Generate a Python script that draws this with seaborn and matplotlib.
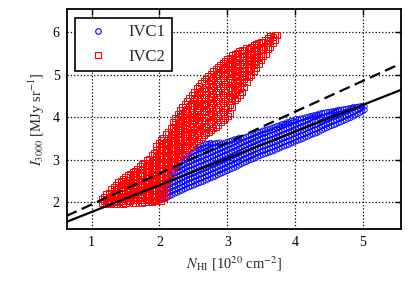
import matplotlib
matplotlib.use("Agg")
import matplotlib.pyplot as plt
from matplotlib.lines import Line2D
import seaborn as sns
import numpy as np
import pandas as pd

# ---------------- data ----------------
# IVC1 (blue circles): column x positions and the y values in each column
ivc1_x_a = [2.02, 2.09, 2.16, 2.23, 2.30, 2.37, 2.44, 2.51, 2.58, 2.65, 2.72,
            2.79, 2.86, 2.93, 3.00, 3.07, 3.14, 3.21, 3.28, 3.35, 3.42, 3.49,
            3.56, 3.63, 3.70, 3.77, 3.84, 3.91, 3.98, 4.05, 4.12, 4.19, 4.26,
            4.33, 4.40, 4.47, 4.54, 4.61, 4.68, 4.75, 4.82, 4.89, 4.96, 5.03]
ivc1_y_a = [
    [2.04, 2.13, 2.22, 2.31],
    [2.09, 2.18, 2.27, 2.36, 2.46],
    [2.14, 2.23, 2.33, 2.42, 2.52, 2.62],
    [2.20, 2.29, 2.38, 2.48, 2.58, 2.68, 2.77],
    [2.25, 2.34, 2.44, 2.53, 2.63, 2.73, 2.83, 2.92],
    [2.30, 2.39, 2.49, 2.59, 2.69, 2.79, 2.89, 2.98, 3.03],
    [2.35, 2.45, 2.55, 2.65, 2.75, 2.85, 2.95, 3.04, 3.12],
    [2.39, 2.49, 2.59, 2.69, 2.79, 2.89, 2.99, 3.09, 3.20],
    [2.44, 2.54, 2.64, 2.74, 2.84, 2.94, 3.04, 3.14, 3.24, 3.30],
    [2.48, 2.58, 2.68, 2.78, 2.88, 2.98, 3.08, 3.18, 3.28, 3.35],
    [2.53, 2.63, 2.73, 2.83, 2.93, 3.03, 3.13, 3.23, 3.32, 3.38],
    [2.58, 2.68, 2.78, 2.88, 2.98, 3.08, 3.18, 3.28, 3.38],
    [2.63, 2.73, 2.83, 2.93, 3.03, 3.13, 3.23, 3.33, 3.40],
    [2.68, 2.78, 2.88, 2.98, 3.08, 3.18, 3.28, 3.38],
    [2.73, 2.83, 2.93, 3.03, 3.13, 3.23, 3.33, 3.42],
    [2.78, 2.88, 2.98, 3.08, 3.18, 3.28, 3.38, 3.46],
    [2.83, 2.93, 3.03, 3.13, 3.23, 3.33, 3.43, 3.49],
    [2.89, 2.99, 3.09, 3.19, 3.29, 3.39, 3.50],
    [2.94, 3.04, 3.14, 3.24, 3.34, 3.44, 3.54],
    [2.99, 3.09, 3.19, 3.29, 3.39, 3.49, 3.58],
    [3.04, 3.14, 3.24, 3.34, 3.44, 3.54, 3.62],
    [3.09, 3.19, 3.29, 3.39, 3.49, 3.59, 3.66],
    [3.13, 3.23, 3.33, 3.43, 3.53, 3.63, 3.70],
    [3.17, 3.27, 3.37, 3.47, 3.57, 3.67, 3.73],
    [3.21, 3.31, 3.41, 3.51, 3.61, 3.71, 3.77],
    [3.26, 3.36, 3.46, 3.56, 3.66, 3.76, 3.81],
    [3.31, 3.41, 3.51, 3.61, 3.71, 3.81, 3.85],
    [3.35, 3.45, 3.55, 3.65, 3.75, 3.85, 3.89],
    [3.40, 3.50, 3.60, 3.70, 3.80, 3.92],
    [3.45, 3.55, 3.65, 3.75, 3.85, 3.95],
    [3.49, 3.59, 3.69, 3.79, 3.89, 3.98],
    [3.54, 3.64, 3.74, 3.84, 3.94, 4.01],
    [3.59, 3.69, 3.79, 3.89, 3.99, 4.04],
    [3.63, 3.73, 3.83, 3.93, 4.03, 4.07],
    [3.69, 3.79, 3.89, 3.99, 4.10],
    [3.74, 3.84, 3.94, 4.04, 4.12],
    [3.79, 3.89, 3.99, 4.09, 4.14],
    [3.83, 3.93, 4.03, 4.13, 4.16],
    [3.88, 3.98, 4.08, 4.18],
    [3.93, 4.03, 4.13, 4.20],
    [3.98, 4.08, 4.18, 4.22],
    [4.04, 4.14, 4.24],
    [4.10, 4.19, 4.26],
    [4.17, 4.25],
]
ivc1_x_b = [2.055, 2.125, 2.195, 2.265, 2.335, 2.405, 2.475, 2.545, 2.615,
            2.685, 2.755, 2.825, 2.895, 2.965, 3.035, 3.105, 3.175, 3.245,
            3.315, 3.385, 3.455, 3.525, 3.595, 3.665, 3.735, 3.805, 3.875,
            3.945, 4.015, 4.085, 4.155, 4.225, 4.295, 4.365, 4.435, 4.505,
            4.575, 4.645, 4.715, 4.785, 4.855, 4.925, 4.995]
ivc1_y_b = [
    [2.08, 2.19, 2.28, 2.40],
    [2.11, 2.21, 2.31, 2.40, 2.50, 2.58],
    [2.17, 2.27, 2.36, 2.47, 2.56, 2.66, 2.72],
    [2.22, 2.31, 2.42, 2.51, 2.61, 2.72, 2.80, 2.88],
    [2.27, 2.37, 2.47, 2.56, 2.66, 2.77, 2.86, 2.96],
    [2.33, 2.42, 2.53, 2.62, 2.73, 2.82, 2.93, 3.01, 3.08],
    [2.37, 2.46, 2.57, 2.66, 2.77, 2.86, 2.97, 3.06, 3.16],
    [2.42, 2.52, 2.61, 2.72, 2.81, 2.92, 3.01, 3.12, 3.21, 3.27],
    [2.46, 2.56, 2.66, 2.77, 2.86, 2.96, 3.07, 3.16, 3.26, 3.33],
    [2.51, 2.61, 2.71, 2.80, 2.91, 3.01, 3.11, 3.20, 3.30, 3.38],
    [2.56, 2.65, 2.76, 2.86, 2.95, 3.06, 3.15, 3.26, 3.35, 3.40],
    [2.60, 2.71, 2.80, 2.91, 3.00, 3.11, 3.21, 3.30, 3.39],
    [2.66, 2.75, 2.86, 2.96, 3.05, 3.16, 3.25, 3.35, 3.41],
    [2.71, 2.80, 2.91, 3.00, 3.11, 3.20, 3.31, 3.40],
    [2.76, 2.86, 2.95, 3.06, 3.15, 3.26, 3.35, 3.44],
    [2.80, 2.91, 3.00, 3.11, 3.21, 3.30, 3.41, 3.48],
    [2.86, 2.96, 3.06, 3.16, 3.26, 3.36, 3.46, 3.52],
    [2.92, 3.01, 3.12, 3.21, 3.32, 3.41, 3.52],
    [2.97, 3.06, 3.17, 3.26, 3.37, 3.46, 3.56],
    [3.01, 3.12, 3.21, 3.32, 3.41, 3.52, 3.60],
    [3.07, 3.16, 3.27, 3.36, 3.47, 3.56, 3.65],
    [3.11, 3.21, 3.31, 3.41, 3.51, 3.61, 3.69],
    [3.15, 3.25, 3.35, 3.45, 3.55, 3.65, 3.72],
    [3.19, 3.29, 3.39, 3.49, 3.59, 3.69, 3.76],
    [3.24, 3.33, 3.44, 3.53, 3.64, 3.73, 3.80],
    [3.29, 3.38, 3.49, 3.58, 3.69, 3.78, 3.84],
    [3.33, 3.43, 3.53, 3.63, 3.73, 3.83, 3.88],
    [3.38, 3.47, 3.58, 3.67, 3.78, 3.87, 3.92],
    [3.43, 3.52, 3.63, 3.72, 3.83, 3.90, 3.96],
    [3.47, 3.57, 3.67, 3.77, 3.87, 3.97],
    [3.52, 3.61, 3.72, 3.81, 3.92, 4.00],
    [3.57, 3.66, 3.77, 3.86, 3.97, 4.03],
    [3.61, 3.71, 3.81, 3.91, 4.01, 4.06],
    [3.66, 3.76, 3.86, 3.96, 4.05, 4.09],
    [3.72, 3.81, 3.92, 4.01, 4.11],
    [3.77, 3.86, 3.97, 4.06, 4.13],
    [3.81, 3.91, 4.01, 4.11, 4.15],
    [3.86, 3.95, 4.06, 4.15, 4.18],
    [3.91, 4.00, 4.11, 4.19],
    [3.96, 4.06, 4.15, 4.21],
    [4.01, 4.11, 4.21, 4.24],
    [4.07, 4.17, 4.25],
    [4.13, 4.22, 4.27],
]

# IVC2 (red squares): column x positions and the y values in each column
ivc2_x_a = [1.15, 1.22, 1.29, 1.36, 1.43, 1.50, 1.57, 1.64, 1.71, 1.78, 1.85,
            1.92, 1.99, 2.06, 2.13, 2.20, 2.27, 2.34, 2.41, 2.48, 2.55, 2.62,
            2.69, 2.76, 2.83, 2.90, 2.97, 3.04, 3.11, 3.18, 3.25, 3.32, 3.39,
            3.46, 3.53, 3.60, 3.67, 3.73]
ivc2_y_a = [
    [1.98, 2.08],
    [1.96, 2.06, 2.18],
    [1.99, 2.10, 2.22, 2.30],
    [1.97, 2.08, 2.20, 2.31, 2.41],
    [2.02, 2.13, 2.25, 2.37, 2.50],
    [1.98, 2.10, 2.20, 2.33, 2.45, 2.58],
    [2.04, 2.16, 2.27, 2.40, 2.52, 2.66],
    [1.99, 2.12, 2.24, 2.35, 2.47, 2.60, 2.73],
    [2.05, 2.18, 2.30, 2.43, 2.55, 2.70, 2.84],
    [2.00, 2.12, 2.26, 2.38, 2.50, 2.64, 2.78, 2.93],
    [2.06, 2.20, 2.33, 2.46, 2.60, 2.74, 2.88, 3.02],
    [2.02, 2.15, 2.28, 2.42, 2.56, 2.70, 2.85, 3.00, 3.16],
    [2.08, 2.22, 2.37, 2.52, 2.66, 2.80, 2.95, 3.10, 3.26, 3.38],
    [2.10, 2.26, 2.42, 2.58, 2.74, 2.90, 3.06, 3.22, 3.38, 3.52],
    [2.55, 2.70, 2.86, 3.02, 3.18, 3.34, 3.50, 3.66],
    [2.80, 2.96, 3.12, 3.28, 3.44, 3.60, 3.76, 3.88],
    [3.00, 3.16, 3.32, 3.48, 3.64, 3.80, 3.96, 4.08],
    [3.12, 3.28, 3.45, 3.60, 3.76, 3.92, 4.08, 4.24],
    [3.22, 3.38, 3.55, 3.72, 3.88, 4.04, 4.20, 4.38],
    [3.32, 3.50, 3.66, 3.84, 4.00, 4.18, 4.34, 4.52],
    [3.44, 3.62, 3.80, 3.98, 4.16, 4.34, 4.52, 4.68],
    [3.54, 3.72, 3.90, 4.08, 4.26, 4.44, 4.62, 4.80],
    [3.62, 3.80, 3.98, 4.16, 4.34, 4.52, 4.70, 4.90],
    [3.70, 3.90, 4.10, 4.30, 4.50, 4.70, 4.88, 5.02],
    [3.78, 3.98, 4.18, 4.38, 4.58, 4.78, 4.98, 5.14],
    [3.88, 4.08, 4.28, 4.48, 4.68, 4.88, 5.06, 5.22],
    [3.98, 4.18, 4.38, 4.58, 4.78, 4.98, 5.16, 5.32],
    [4.10, 4.30, 4.50, 4.70, 4.90, 5.10, 5.28, 5.40],
    [4.40, 4.58, 4.76, 4.94, 5.12, 5.30, 5.48],
    [4.52, 4.70, 4.88, 5.06, 5.24, 5.42, 5.55],
    [4.72, 4.90, 5.08, 5.26, 5.44, 5.58],
    [4.94, 5.10, 5.26, 5.42, 5.60],
    [5.08, 5.24, 5.40, 5.56, 5.70],
    [5.26, 5.42, 5.58, 5.74],
    [5.44, 5.60, 5.78],
    [5.60, 5.74, 5.86],
    [5.74, 5.88],
    [5.94],
]
ivc2_x_b = [1.185, 1.255, 1.325, 1.395, 1.465, 1.535, 1.605, 1.675, 1.745,
            1.815, 1.885, 1.955, 2.025, 2.095, 2.165, 2.235, 2.305, 2.375,
            2.445, 2.515, 2.585, 2.655, 2.725, 2.795, 2.865, 2.935, 3.005,
            3.075, 3.145, 3.215, 3.285, 3.355, 3.425, 3.495, 3.565, 3.635,
            3.700]
ivc2_y_b = [
    [2.02, 2.13],
    [2.00, 2.11, 2.22],
    [1.96, 2.04, 2.16, 2.27, 2.36],
    [2.00, 2.14, 2.26, 2.36, 2.47],
    [1.96, 2.07, 2.19, 2.30, 2.42, 2.55],
    [2.03, 2.15, 2.27, 2.39, 2.51, 2.63],
    [1.98, 2.10, 2.22, 2.34, 2.46, 2.59, 2.70],
    [2.05, 2.17, 2.30, 2.41, 2.53, 2.66, 2.79],
    [1.99, 2.11, 2.24, 2.37, 2.49, 2.62, 2.76, 2.90],
    [2.06, 2.18, 2.32, 2.44, 2.57, 2.71, 2.85, 2.98],
    [2.00, 2.13, 2.26, 2.40, 2.53, 2.67, 2.81, 2.95, 3.10],
    [2.05, 2.20, 2.34, 2.49, 2.63, 2.77, 2.92, 3.07, 3.22, 3.32],
    [2.03, 2.16, 2.30, 2.46, 2.60, 2.74, 2.88, 3.02, 3.16, 3.31, 3.45],
    [2.18, 2.34, 2.50, 2.64, 2.78, 2.94, 3.10, 3.26, 3.42, 3.60],
    [2.66, 2.80, 2.94, 3.10, 3.26, 3.42, 3.58, 3.74],
    [2.88, 3.04, 3.20, 3.36, 3.52, 3.68, 3.84, 3.98],
    [3.06, 3.22, 3.38, 3.54, 3.70, 3.86, 4.02, 4.16],
    [3.17, 3.33, 3.50, 3.66, 3.82, 3.98, 4.14, 4.31],
    [3.27, 3.44, 3.61, 3.78, 3.94, 4.11, 4.27, 4.45],
    [3.38, 3.56, 3.73, 3.91, 4.08, 4.26, 4.43, 4.60],
    [3.49, 3.67, 3.85, 4.03, 4.21, 4.39, 4.57, 4.74],
    [3.58, 3.76, 3.94, 4.12, 4.30, 4.48, 4.66, 4.85],
    [3.66, 3.85, 4.04, 4.23, 4.42, 4.61, 4.79, 4.96],
    [3.74, 3.94, 4.14, 4.34, 4.54, 4.74, 4.93, 5.08],
    [3.83, 4.03, 4.23, 4.43, 4.63, 4.83, 5.02, 5.18],
    [3.93, 4.13, 4.33, 4.53, 4.73, 4.93, 5.11, 5.27],
    [4.03, 4.23, 4.43, 4.63, 4.83, 5.03, 5.22, 5.36],
    [4.25, 4.44, 4.63, 4.82, 5.01, 5.20, 5.38, 5.46],
    [4.46, 4.64, 4.82, 5.00, 5.18, 5.36, 5.52],
    [4.60, 4.80, 4.98, 5.16, 5.34, 5.50, 5.57],
    [4.83, 5.00, 5.17, 5.34, 5.51, 5.62],
    [5.00, 5.16, 5.32, 5.48, 5.65],
    [5.16, 5.32, 5.48, 5.64, 5.72],
    [5.34, 5.50, 5.66, 5.78],
    [5.50, 5.66, 5.82],
    [5.66, 5.80, 5.90],
    [5.82, 5.94],
]

# fitted lines (slope, intercept)
fit_solid = (0.63, 1.14)
fit_dashed = (0.727, 1.22)

x_lim = (0.63, 5.57)
y_lim = (1.37, 6.54)
x_ticks = [1, 2, 3, 4, 5]
y_ticks = [2, 3, 4, 5, 6]
labels = ["IVC1", "IVC2"]
colors = ["#0000ff", "#ff0000"]


# ---------------- build tables ----------------
def flatten(*pairs):
    px, py = [], []
    for xs, ys in pairs:
        for xv, col in zip(xs, ys):
            for yv in col:
                px.append(xv)
                py.append(yv)
    return pd.DataFrame({"N": px, "I": py})


df1 = flatten((ivc1_x_a, ivc1_y_a), (ivc1_x_b, ivc1_y_b))
df2 = flatten((ivc2_x_a, ivc2_y_a), (ivc2_x_b, ivc2_y_b))

# ---------------- style ----------------
sns.set_style("white")
plt.rcParams["font.family"] = ["Liberation Serif", "DejaVu Serif"]
plt.rcParams["mathtext.fontset"] = "stix"

fig = plt.figure(figsize=(4.16, 2.83), dpi=100)
ax = fig.add_axes([0.160, 0.191, 0.805, 0.776])

sns.scatterplot(data=df1, x="N", y="I", marker="o", s=12, color=colors[0],
                linewidth=0.6, ax=ax, zorder=3, legend=False)
sns.scatterplot(data=df2, x="N", y="I", marker="s", s=20, color=colors[1],
                linewidth=0.7, ax=ax, zorder=3, legend=False)
for coll in ax.collections:
    fc = coll.get_facecolor()
    if len(fc):
        ec = fc[0].copy()
        coll.set_edgecolor([ec])
        coll.set_facecolor("none")

xl = np.array(x_lim)
sns.lineplot(x=xl, y=fit_solid[0] * xl + fit_solid[1], color="black",
             linewidth=1.6, ax=ax, zorder=4)
sns.lineplot(x=xl, y=fit_dashed[0] * xl + fit_dashed[1], color="black",
             linewidth=1.6, linestyle=(0, (5, 2.5)), ax=ax, zorder=4)

ax.set_xlim(*x_lim)
ax.set_ylim(*y_lim)
ax.set_xticks(x_ticks)
ax.set_yticks(y_ticks)
ax.grid(True, linestyle=":", color="black", linewidth=0.9)
ax.set_axisbelow(True)
ax.tick_params(direction="in", length=4, width=1, top=True, right=True,
               labelsize=10, colors="black", pad=5)
for sp in ax.spines.values():
    sp.set_visible(True)
    sp.set_color("black")
    sp.set_linewidth(1.3)

ax.set_xlabel(r"$N_{\rm HI}$ [10$^{20}$ cm$^{-2}$]", fontsize=10.5)
ax.set_ylabel(r"$I_{3000}$ [MJy sr$^{-1}$]", fontsize=10.5)

handles = [
    Line2D([], [], marker="o", linestyle="none", markersize=4,
           markerfacecolor="none", markeredgecolor=colors[0], markeredgewidth=0.8),
    Line2D([], [], marker="s", linestyle="none", markersize=4,
           markerfacecolor="none", markeredgecolor=colors[1], markeredgewidth=0.8),
]
leg = ax.legend(handles, labels, loc="upper left", fontsize=12,
                frameon=True, fancybox=False, framealpha=1,
                edgecolor="black", numpoints=1)
leg.get_frame().set_linewidth(1.2)

fig.savefig("out.png", dpi=100)
